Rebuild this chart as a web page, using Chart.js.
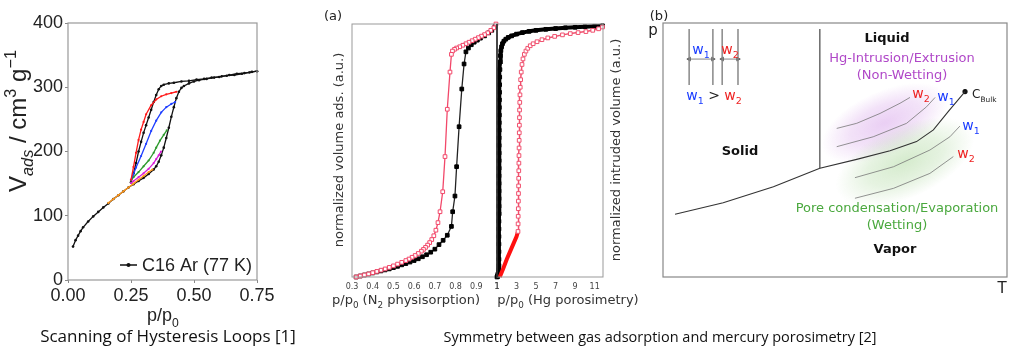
<!DOCTYPE html>
<html><head><meta charset="utf-8">
<script src="https://cdn.jsdelivr.net/npm/chart.js@4.4.1/dist/chart.umd.min.js"></script>
<style>
html,body{margin:0;padding:0;background:#fff;}
#wrap{position:relative;width:1024px;height:360px;overflow:hidden;background:#fff;}
#wrap canvas{position:absolute;left:0;top:0;}
</style></head><body>
<div id="wrap">
<canvas id="c1" width="1024" height="360"></canvas>
<canvas id="c2" width="1024" height="360"></canvas>
<canvas id="c3" width="1024" height="360"></canvas>
<canvas id="c4" width="1024" height="360"></canvas>
</div>
<script>
// ---------- Left panel: scanning of hysteresis loops ----------
const isoTicksX = [0, 0.25, 0.5, 0.75];
const isoTicksY = [0, 100, 200, 300, 400];
const adsP = [0.02,0.03,0.04,0.05,0.06,0.08,0.10,0.12,0.14,0.16,0.18,0.20,0.22,0.24,0.26,0.28,0.30,0.32,0.34,0.35,0.36,0.37,0.38,0.39,0.40,0.41,0.42,0.43,0.44,0.45,0.46,0.48,0.50,0.52,0.55,0.58,0.61,0.64,0.67,0.70,0.73,0.75];
const adsV = [52,62,69,76,82,91,99,106,113,119,126,132,138,144,149,154,159,165,172,177,184,194,206,221,237,254,269,283,293,299,302,306,309,311,313,315,317,319,321,322,324,325];
const desP = [0.75,0.72,0.69,0.66,0.63,0.60,0.57,0.54,0.51,0.48,0.45,0.42,0.40,0.38,0.37,0.36,0.35,0.34,0.33,0.32,0.31,0.30,0.29,0.28,0.27,0.26,0.25];
const desV = [325,323,321,319,318,316,315,313,312,310,309,307,306,304,302,297,288,277,265,253,241,229,215,200,182,166,152];
const redScanP = [0.43,0.41,0.39,0.37,0.35,0.33,0.31,0.30,0.29,0.28,0.27,0.26,0.25];
const redScanV = [293,291,289,286,281,272,258,246,234,218,198,176,156];
const blueScanP = [0.425,0.41,0.39,0.37,0.35,0.33,0.31,0.29,0.27,0.26,0.25];
const blueScanV = [277,274,269,261,248,232,212,193,175,165,156];
const greenScanP = [0.392,0.38,0.365,0.35,0.34,0.32,0.30,0.28,0.26,0.25];
const greenScanV = [233,226,217,206,198,186,177,168,160,155];
const magScanP = [0.369,0.36,0.35,0.34,0.32,0.30,0.28,0.26,0.25];
const magScanV = [200,194,188,182,173,166,160,154,151];
const orScanP = [0.335,0.32,0.30,0.28,0.26,0.24,0.22,0.20,0.18,0.16];
const orScanV = [172,168,162,156,150,144,138,132,126,120];
const legendLabel = 'C16 Ar (77 K)';

// ---------- Panel (a): N2 physisorption ----------
const n2Ticks = [0.3,0.4,0.5,0.6,0.7,0.8,0.9,1.0];
const n2AdsP = [0.32,0.34,0.36,0.38,0.40,0.42,0.44,0.46,0.48,0.50,0.52,0.54,0.56,0.58,0.60,0.62,0.64,0.66,0.68,0.70,0.72,0.74,0.76,0.78,0.786,0.797,0.805,0.817,0.83,0.841,0.85,0.862,0.876,0.89,0.905,0.92,0.94,0.96,0.975,0.99];
const n2AdsV = [0,0.004,0.008,0.012,0.016,0.02,0.024,0.028,0.032,0.037,0.042,0.048,0.053,0.059,0.065,0.072,0.08,0.088,0.098,0.11,0.128,0.145,0.165,0.2,0.258,0.32,0.436,0.594,0.743,0.842,0.89,0.905,0.918,0.928,0.936,0.944,0.953,0.965,0.975,0.99];
const n2DesP = [0.995,0.985,0.97,0.955,0.94,0.925,0.91,0.895,0.88,0.865,0.85,0.835,0.82,0.805,0.795,0.785,0.78,0.773,0.76,0.749,0.738,0.725,0.715,0.705,0.695,0.685,0.675,0.665,0.655,0.645,0.635,0.62,0.605,0.59,0.575,0.56,0.54,0.52,0.50,0.48,0.46,0.44,0.42,0.40,0.38,0.36,0.34,0.32];
const n2DesV = [1.0,0.985,0.975,0.965,0.958,0.952,0.946,0.94,0.934,0.928,0.922,0.916,0.91,0.905,0.9,0.893,0.88,0.81,0.663,0.476,0.337,0.258,0.215,0.185,0.163,0.148,0.136,0.126,0.117,0.109,0.102,0.093,0.085,0.078,0.071,0.065,0.058,0.051,0.044,0.038,0.032,0.027,0.022,0.017,0.012,0.008,0.004,0.0];

// ---------- Panel (a): Hg porosimetry ----------
const hgTicks = [1,3,5,7,9,11];
const hgBlkP = [1.0,1.05,1.1,1.15,1.18,1.2,1.2,1.2,1.2,1.2,1.2,1.2,1.21,1.21,1.21,1.21,1.21,1.21,1.22,1.22,1.22,1.22,1.22,1.23,1.23,1.24,1.24,1.25,1.26,1.27,1.28,1.3,1.32,1.35,1.4,1.47,1.56,1.7,1.9,2.15,2.5,3.0,3.6,4.3,5.0,6.0,7.0,8.0,9.0,10.0,11.0,11.8];
const hgBlkV = [0,0.005,0.012,0.02,0.03,0.045,0.07,0.1,0.13,0.16,0.19,0.22,0.25,0.28,0.31,0.34,0.37,0.4,0.43,0.46,0.49,0.52,0.55,0.58,0.61,0.64,0.67,0.7,0.73,0.76,0.79,0.82,0.85,0.875,0.895,0.91,0.922,0.932,0.94,0.947,0.953,0.96,0.966,0.971,0.975,0.979,0.982,0.985,0.987,0.989,0.991,0.993];
const hgRedLoP = [1.28,1.6,2.0,2.5,3.0,3.15];
const hgRedLoV = [0,0.03,0.07,0.115,0.16,0.18];
const hgRedP = [3.15,3.16,3.17,3.18,3.19,3.2,3.21,3.22,3.23,3.24,3.25,3.26,3.27,3.28,3.29,3.3,3.31,3.33,3.35,3.38,3.42,3.48,3.56,3.66,3.8,3.96,4.15,4.4,4.7,5.1,5.6,6.2,6.9,7.7,8.5,9.3,10.1,10.8,11.4,11.8];
const hgRedV = [0.18,0.21,0.24,0.27,0.30,0.33,0.36,0.39,0.42,0.45,0.48,0.51,0.54,0.57,0.60,0.63,0.66,0.69,0.72,0.75,0.78,0.81,0.84,0.862,0.88,0.893,0.904,0.914,0.922,0.93,0.938,0.945,0.951,0.957,0.962,0.966,0.97,0.975,0.981,0.988];

// ---------- Panel (b): schematic phase diagram (arbitrary units 0-100) ----------
const sublT = [3.5,17.5,32.1,45.6], sublP = [24.7,29.2,35.5,42.8];
const meltT = [45.6,45.6], meltP = [42.8,97.6];
const vapT = [45.6,56.3,66,73.7,78.6,82.9,87.8], vapP = [42.8,46.3,49.7,53.3,57.9,65.1,73];
const hgW2T = [50.5,56.3,63.1,68.9,71.8], hgW2P = [58.5,60.5,64.4,68.4,70.7];
const hgW1T = [50.5,61.1,70.8,76.6,79.1], hgW1P = [51.3,55.2,60.5,67,70.7];
const pcW1T = [55.8,67,77.6,83.4,86.3], pcW1P = [39.1,43.4,50,55.2,59.4];
const pcW2T = [55.8,67,77.6,84.4], pcW2P = [31,34.9,40.8,47.4];
const wallT = [7.6,14.5,17.2,21.8], wallP = [75.6,97.6];
const arrowP = 85.8;
const cBulk = [87.8,73];

const FL = '"Liberation Sans", Arial, sans-serif';
const FD = '"DejaVu Sans", Verdana, sans-serif';
const FO = '"Open Sans", sans-serif';

const pts = (xs, ys) => xs.map((x, i) => ({x, y: ys[i]}));
const line = (xs, ys, o) => Object.assign({data: pts(xs, ys), showLine: true, borderWidth: 1.2, pointRadius: 0, tension: 0, clip: false}, o);

function drawRich(ctx, parts, x, y, o) {
  const size = o.size, fam = o.family, align = o.align || 'center';
  if (typeof parts === 'string') parts = [{t: parts}];
  ctx.save();
  ctx.translate(x, y);
  if (o.rot) ctx.rotate(o.rot);
  ctx.textBaseline = 'alphabetic'; ctx.textAlign = 'left';
  const fontOf = p => `${p.italic ? 'italic ' : ''}${(p.bold || o.bold) ? 'bold ' : ''}${(p.sub || p.sup) ? (size * (o.subScale || 0.68)).toFixed(1) : size}px ${fam}`;
  let w = 0;
  parts.forEach(p => { ctx.font = fontOf(p); p._w = ctx.measureText(p.t).width; w += p._w; });
  let cx = align === 'center' ? -w / 2 : align === 'right' ? -w : 0;
  parts.forEach(p => {
    ctx.font = fontOf(p);
    ctx.fillStyle = p.color || o.color || '#000';
    const dy = p.sub ? size * 0.3 : p.sup ? -size * 0.42 : 0;
    ctx.fillText(p.t, cx, dy + size * 0.36);
    cx += p._w;
  });
  ctx.restore();
}
function frame(ctx, a, color, lw) {
  ctx.save(); ctx.strokeStyle = color; ctx.lineWidth = lw;
  ctx.strokeRect(a.left, a.top, a.right - a.left, a.bottom - a.top); ctx.restore();
}
const base = {responsive: false, animation: false, devicePixelRatio: 1, events: [],
  plugins: {legend: {display: false}, tooltip: {enabled: false}}};

// ===== Chart 1 =====
const p1 = {id: 'p1', afterDraw(chart) {
  const ctx = chart.ctx, a = chart.chartArea;
  frame(ctx, a, '#999', 1.2);
  drawRich(ctx, [{t: 'V'}, {t: 'ads', sub: true, italic: true}, {t: ' / cm'}, {t: '3', sup: true}, {t: ' g'}, {t: '\u22121', sup: true}], 17, 121, {size: 24, family: FL, color: '#222', rot: -Math.PI / 2});
  drawRich(ctx, [{t: 'p/p'}, {t: '0', sub: true}], 163, 315, {size: 18, family: FL, color: '#222'});
  drawRich(ctx, 'Scanning of Hysteresis Loops [1]', 168, 336, {size: 17, family: FO, color: '#111'});
  // legend
  const ly = 265;
  ctx.save(); ctx.strokeStyle = '#111'; ctx.lineWidth = 1.5;
  ctx.beginPath(); ctx.moveTo(120, ly); ctx.lineTo(137, ly); ctx.stroke();
  ctx.fillStyle = '#111'; ctx.beginPath(); ctx.arc(128.5, ly, 2, 0, Math.PI * 2); ctx.fill(); ctx.restore();
  drawRich(ctx, legendLabel, 142, ly, {size: 18, family: FL, color: '#222', align: 'left'});
}};
const scanStyle = c => ({borderColor: c, backgroundColor: c, borderWidth: 1.3, pointRadius: 1.1, pointBorderWidth: 0});
new Chart(document.getElementById('c1'), {
  type: 'scatter',
  data: {datasets: [
    line(redScanP, redScanV, scanStyle('#ff1a1a')),
    line(blueScanP, blueScanV, scanStyle('#1f3fff')),
    line(greenScanP, greenScanV, scanStyle('#2e9a2e')),
    line(magScanP, magScanV, scanStyle('#d81ed8')),
    line(orScanP, orScanV, scanStyle('#ff961a')),
    line(desP, desV, {borderColor: '#111', backgroundColor: '#111', borderWidth: 1.3, pointRadius: 1.3, pointBorderWidth: 0}),
    line(adsP, adsV, {borderColor: '#111', backgroundColor: '#111', borderWidth: 1.3, pointRadius: 1.3, pointBorderWidth: 0})
  ]},
  options: Object.assign({}, base, {
    layout: {padding: {left: 28, right: 767, top: 23, bottom: 56}},
    scales: {
      x: {type: 'linear', min: 0, max: 0.75,
        afterBuildTicks: s => { s.ticks = isoTicksX.map(v => ({value: v})); },
        afterFit: s => { s.height = 24; },
        ticks: {autoSkip: false, maxRotation: 0, padding: 2, color: '#222', font: {family: FL, size: 18}, callback: v => Number(v).toFixed(2)},
        grid: {display: true, drawOnChartArea: false, tickLength: 3, color: '#888'}, border: {display: false}},
      y: {type: 'linear', min: 0, max: 400,
        afterBuildTicks: s => { s.ticks = isoTicksY.map(v => ({value: v})); },
        afterFit: s => { s.width = 40; },
        ticks: {autoSkip: false, padding: 2, color: '#222', font: {family: FL, size: 18}},
        grid: {display: true, drawOnChartArea: false, tickLength: 3, color: '#888'}, border: {display: false}}
    }
  }),
  plugins: [p1]
});

// ===== Chart 2: N2 =====
const p2 = {id: 'p2', afterDraw(chart) {
  const ctx = chart.ctx, a = chart.chartArea;
  frame(ctx, a, '#999', 1);
  drawRich(ctx, '(a)', 333, 15, {size: 13, family: FD, color: '#222'});
  drawRich(ctx, 'normalized volume ads. (a.u.)', 338, 150, {size: 13, family: FD, color: '#333', rot: -Math.PI / 2});
  drawRich(ctx, [{t: 'p/p'}, {t: '0', sub: true}, {t: ' (N'}, {t: '2', sub: true}, {t: ' physisorption)'}], 406, 299, {size: 13, family: FD, color: '#333'});
}};
const tickFontA = {family: FD, size: 8};
new Chart(document.getElementById('c2'), {
  type: 'scatter',
  data: {datasets: [
    line(n2DesP, n2DesV, {borderColor: '#f2486a', borderWidth: 1.3, pointStyle: 'rect', pointRadius: 2.6, pointBackgroundColor: '#fff', pointBorderColor: '#f2486a', pointBorderWidth: 1}),
    line(n2AdsP, n2AdsV, {borderColor: '#222', borderWidth: 1.3, pointStyle: 'rect', pointRadius: 2.6, pointBackgroundColor: '#000', pointBorderColor: '#000', pointBorderWidth: 1})
  ]},
  options: Object.assign({}, base, {
    layout: {padding: {left: 352, right: 527, top: 24, bottom: 69}},
    scales: {
      x: {type: 'linear', min: 0.3, max: 1.0,
        afterBuildTicks: s => { s.ticks = n2Ticks.map(v => ({value: v})); },
        afterFit: s => { s.height = 14; },
        ticks: {autoSkip: false, maxRotation: 0, padding: 5, color: '#444', font: tickFontA, callback: v => v === 1 ? '1' : Number(v).toFixed(1)},
        grid: {display: false, drawTicks: false}, border: {display: false}},
      y: {type: 'linear', min: 0, max: 1, display: false}
    }
  }),
  plugins: [p2]
});

// ===== Chart 3: Hg =====
const p3 = {id: 'p3', afterDraw(chart) {
  const ctx = chart.ctx, a = chart.chartArea;
  frame(ctx, a, '#999', 1);
  ctx.save(); ctx.strokeStyle = '#222'; ctx.lineWidth = 1.5;
  ctx.beginPath(); ctx.moveTo(a.left, a.top); ctx.lineTo(a.left, a.bottom); ctx.stroke(); ctx.restore();
  drawRich(ctx, 'normalized intruded volume (a.u.)', 615, 150, {size: 13, family: FD, color: '#333', rot: -Math.PI / 2});
  drawRich(ctx, [{t: 'p/p'}, {t: '0', sub: true}, {t: ' (Hg porosimetry)'}], 568, 299, {size: 13, family: FD, color: '#333'});
  drawRich(ctx, 'Symmetry between gas adsorption and mercury porosimetry [2]', 660, 337, {size: 14.5, family: FO, color: '#111'});
}};
new Chart(document.getElementById('c3'), {
  type: 'scatter',
  data: {datasets: [
    line(hgRedP, hgRedV, {borderColor: '#f0506e', borderWidth: 1.5, pointStyle: 'rect', pointRadius: 2.6, pointBackgroundColor: '#fff', pointBorderColor: '#f0506e', pointBorderWidth: 1}),
    line(hgRedLoP, hgRedLoV, {borderColor: '#ff1010', borderWidth: 4}),
    line(hgBlkP, hgBlkV, {borderColor: '#000', borderWidth: 4, pointStyle: 'rect', pointRadius: 2.6, pointBackgroundColor: '#000', pointBorderColor: '#000', pointBorderWidth: 1})
  ]},
  options: Object.assign({}, base, {
    layout: {padding: {left: 497, right: 421, top: 24, bottom: 69}},
    scales: {
      x: {type: 'linear', min: 1, max: 11.85,
        afterBuildTicks: s => { s.ticks = hgTicks.map(v => ({value: v})); },
        afterFit: s => { s.height = 14; },
        ticks: {autoSkip: false, maxRotation: 0, padding: 5, color: '#444', font: tickFontA},
        grid: {display: false, drawTicks: false}, border: {display: false}},
      y: {type: 'linear', min: 0, max: 1, display: false}
    }
  }),
  plugins: [p3]
});

// ===== Chart 4: schematic (b) =====
const W1 = '#1a3cff', W2 = '#ee2222';
const wLabel = (n, c) => [{t: 'w', color: c}, {t: String(n), sub: true, color: c}];
function blob(ctx, cx, cy, rx, ry, ang, rgb, alpha) {
  ctx.save(); ctx.translate(cx, cy); ctx.rotate(ang); ctx.scale(1, ry / rx);
  const g = ctx.createRadialGradient(0, 0, 0, 0, 0, rx);
  g.addColorStop(0, `rgba(${rgb},${alpha})`);
  g.addColorStop(0.55, `rgba(${rgb},${alpha * 0.6})`);
  g.addColorStop(1, `rgba(${rgb},0)`);
  ctx.fillStyle = g; ctx.beginPath(); ctx.arc(0, 0, rx, 0, Math.PI * 2); ctx.fill(); ctx.restore();
}
const p4 = {id: 'p4',
  beforeDatasetsDraw(chart) {
    const ctx = chart.ctx, x = chart.scales.x, y = chart.scales.y;
    blob(ctx, x.getPixelForValue(64.5), y.getPixelForValue(60.6), 68, 32, -0.42, '205,140,228', 0.42);
    blob(ctx, x.getPixelForValue(70.3), y.getPixelForValue(45.3), 74, 36, -0.42, '150,205,130', 0.4);
  },
  afterDraw(chart) {
    const ctx = chart.ctx, a = chart.chartArea;
    frame(ctx, a, '#888', 1.2);
    drawRich(ctx, '(b)', 659, 15, {size: 13, family: FD, color: '#222'});
    drawRich(ctx, 'p', 653, 30, {size: 15, family: FD, color: '#222'});
    drawRich(ctx, 'T', 1002, 288, {size: 15, family: FD, color: '#222'});
    drawRich(ctx, 'Liquid', 887, 37, {size: 13, family: FD, color: '#111', bold: true});
    drawRich(ctx, 'Hg-Intrusion/Extrusion', 902, 57, {size: 13, family: FD, color: '#b048c8'});
    drawRich(ctx, '(Non-Wetting)', 902, 74, {size: 13, family: FD, color: '#b048c8'});
    drawRich(ctx, 'Solid', 740, 150, {size: 13, family: FD, color: '#111', bold: true});
    drawRich(ctx, 'Pore condensation/Evaporation', 897, 207, {size: 13, family: FD, color: '#4aa83e'});
    drawRich(ctx, '(Wetting)', 897, 224, {size: 13, family: FD, color: '#4aa83e'});
    drawRich(ctx, 'Vapor', 895, 248, {size: 13, family: FD, color: '#111', bold: true});
    const wo = {size: 14, family: FD};
    drawRich(ctx, wLabel(2, W2), 921, 93, wo);
    drawRich(ctx, wLabel(1, W1), 946, 96, wo);
    drawRich(ctx, wLabel(1, W1), 971, 125, wo);
    drawRich(ctx, wLabel(2, W2), 966, 153, wo);
    drawRich(ctx, [{t: 'C'}, {t: 'Bulk', sub: true}], 972, 94, {size: 12, family: FD, color: '#222', align: 'left', subScale: 0.62});
    drawRich(ctx, wLabel(1, W1), 701, 49, wo);
    drawRich(ctx, wLabel(2, W2), 730, 49, wo);
    drawRich(ctx, [...wLabel(1, W1), {t: ' > ', color: '#222'}, ...wLabel(2, W2)], 714, 95, wo);
  }
};
const gray = (w, c) => ({borderColor: c || '#777', borderWidth: w});
const walls = wallT.map(t => line([t, t], wallP, gray(1.5, '#888')));
new Chart(document.getElementById('c4'), {
  type: 'scatter',
  data: {datasets: [
    line(sublT, sublP, gray(1.1, '#333')),
    line(meltT, meltP, gray(1.1, '#333')),
    line(vapT, vapP, gray(1.1, '#333')),
    line(hgW2T, hgW2P, gray(0.8)),
    line(hgW1T, hgW1P, gray(0.8)),
    line(pcW1T, pcW1P, gray(0.8)),
    line(pcW2T, pcW2P, gray(0.8)),
    ...walls,
    line([wallT[0], wallT[1]], [arrowP, arrowP], {borderColor: '#666', borderWidth: 0.8, pointStyle: 'triangle', pointRadius: 2.3, pointRotation: [-90, 90], pointBackgroundColor: '#555', pointBorderColor: '#555'}),
    line([wallT[2], wallT[3]], [arrowP, arrowP], {borderColor: '#666', borderWidth: 0.8, pointStyle: 'triangle', pointRadius: 2.3, pointRotation: [-90, 90], pointBackgroundColor: '#555', pointBorderColor: '#555'}),
    line([cBulk[0]], [cBulk[1]], {showLine: false, pointRadius: 2, pointBackgroundColor: '#111', pointBorderColor: '#111'})
  ]},
  options: Object.assign({}, base, {
    layout: {padding: {left: 663, right: 17, top: 23, bottom: 83}},
    scales: {
      x: {type: 'linear', min: 0, max: 100, display: false},
      y: {type: 'linear', min: 0, max: 100, display: false}
    }
  }),
  plugins: [p4]
});
</script>
</body></html>
